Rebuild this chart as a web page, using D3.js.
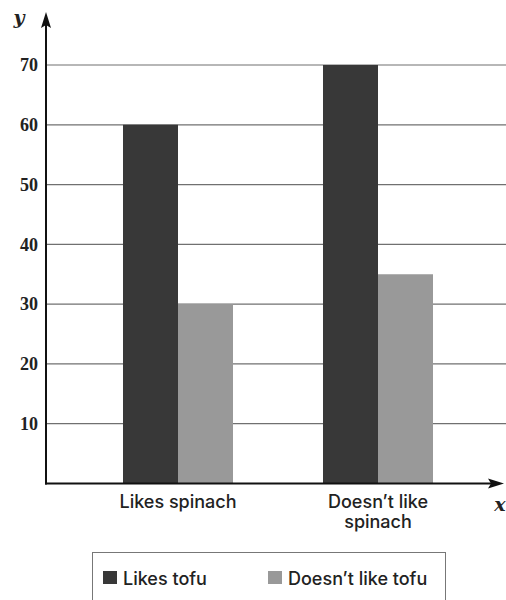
<!DOCTYPE html>
<html>
<head>
<meta charset="utf-8">
<script src="https://cdn.jsdelivr.net/npm/d3@7/dist/d3.min.js"></script>
<style>
  html, body { margin: 0; padding: 0; background: #fff; }
  svg { display: block; }
</style>
</head>
<body>
<svg id="chart" width="506" height="600"></svg>
<script>
// Survey groups along the x axis
const categories = ["Likes spinach", "Doesn't like spinach"];
// Series shown side by side in each group
const seriesNames = ["Likes tofu", "Doesn't like tofu"];
const likesTofu = [60, 70];
const dislikesTofu = [30, 35];
const yTicks = [10, 20, 30, 40, 50, 60, 70];

const colors = ["#383838", "#999999"];
const seriesValues = [likesTofu, dislikesTofu];

const svg = d3.select("#chart");

const originX = 46, originY = 483.5;

const x0 = d3.scaleBand().domain(categories).range([78, 478]).paddingInner(0).paddingOuter(0);
const x1 = d3.scaleBand().domain(seriesNames).range([0, x0.bandwidth()]).paddingInner(0).paddingOuter(0.818);
const y = d3.scaleLinear().domain([0, 70]).range([originY, 65]);

// Horizontal grid lines
svg.append("g")
  .selectAll("line")
  .data(yTicks)
  .join("line")
  .attr("x1", originX).attr("x2", 506)
  .attr("y1", d => y(d)).attr("y2", d => y(d))
  .attr("stroke", "#707070")
  .attr("stroke-width", 1.2);

// Bars
const groups = svg.append("g")
  .selectAll("g")
  .data(categories)
  .join("g")
  .attr("transform", d => `translate(${x0(d)},0)`);

groups.selectAll("rect")
  .data((c, i) => seriesNames.map((s, j) => ({ s, v: seriesValues[j][i], j })))
  .join("rect")
  .attr("x", d => x1(d.s))
  .attr("width", x1.bandwidth())
  .attr("y", d => y(d.v))
  .attr("height", d => y(0) - y(d.v))
  .attr("fill", d => colors[d.j]);

// Y tick labels
const yAxis = d3.axisLeft(y).tickValues(yTicks).tickSize(0).tickPadding(8);
const gy = svg.append("g").attr("transform", `translate(${originX},0)`).call(yAxis);
gy.select(".domain").remove();
gy.selectAll("text")
  .attr("font-family", "'Liberation Serif', 'DejaVu Serif', serif")
  .attr("font-weight", "bold")
  .attr("font-size", 18)
  .attr("fill", "#222");

// Category labels (wrapped on two lines where long)
const xAxis = d3.axisBottom(x0).tickSize(0).tickPadding(0).tickFormat("");
const gx = svg.append("g").attr("transform", `translate(0,${originY})`).call(xAxis);
gx.select(".domain").remove();
const wraps = { "Likes spinach": ["Likes spinach"], "Doesn't like spinach": ["Doesn\u2019t like", "spinach"] };
gx.selectAll(".tick").each(function (d) {
  const t = d3.select(this).append("text")
    .attr("text-anchor", "middle")
    .attr("font-family", "Inter, Roboto, sans-serif")
    .attr("font-weight", 500)
    .attr("font-size", 18)
    .attr("fill", "#222");
  wraps[d].forEach((line, i) => {
    t.append("tspan").attr("x", 0).attr("y", 24.5 + i * 20).text(line);
  });
});

// Axis lines with arrow heads
svg.append("line")
  .attr("x1", originX).attr("x2", originX)
  .attr("y1", originY + 1).attr("y2", 22)
  .attr("stroke", "#111").attr("stroke-width", 2);
svg.append("path")
  .attr("d", `M${originX},12 L${originX - 5},28 L${originX},25 L${originX + 5},28 Z`)
  .attr("fill", "#111");
svg.append("line")
  .attr("x1", originX - 1).attr("x2", 494)
  .attr("y1", originY).attr("y2", originY)
  .attr("stroke", "#111").attr("stroke-width", 2);
svg.append("path")
  .attr("d", `M504,${originY} L488,${originY - 5} L491,${originY} L488,${originY + 5} Z`)
  .attr("fill", "#111");

// Axis names
svg.append("text")
  .attr("x", 19).attr("y", 24)
  .attr("text-anchor", "middle")
  .attr("font-family", "'DejaVu Serif', 'Liberation Serif', serif")
  .attr("font-style", "italic").attr("font-weight", "bold")
  .attr("font-size", 19).attr("fill", "#222")
  .text("y");
svg.append("text")
  .attr("x", 500).attr("y", 511)
  .attr("text-anchor", "middle")
  .attr("font-family", "'DejaVu Serif', 'Liberation Serif', serif")
  .attr("font-style", "italic").attr("font-weight", "bold")
  .attr("font-size", 19).attr("fill", "#222")
  .text("x");

// Legend
const legend = svg.append("g");
legend.append("rect")
  .attr("x", 92.5).attr("y", 552.5)
  .attr("width", 353).attr("height", 60)
  .attr("fill", "none").attr("stroke", "#777").attr("stroke-width", 1);
const legendX = [103, 268];
const items = legend.selectAll("g.item")
  .data(seriesNames)
  .join("g").attr("class", "item")
  .attr("transform", (d, i) => `translate(${legendX[i]},571)`);
items.append("rect")
  .attr("width", 14).attr("height", 13)
  .attr("fill", (d, i) => colors[i]);
items.append("text")
  .attr("x", 20).attr("y", 14)
  .attr("font-family", "Inter, Roboto, sans-serif")
  .attr("font-weight", 500)
  .attr("font-size", 18)
  .attr("fill", "#222")
  .text(d => d.replace("'", "\u2019"));
</script>
</body>
</html>
